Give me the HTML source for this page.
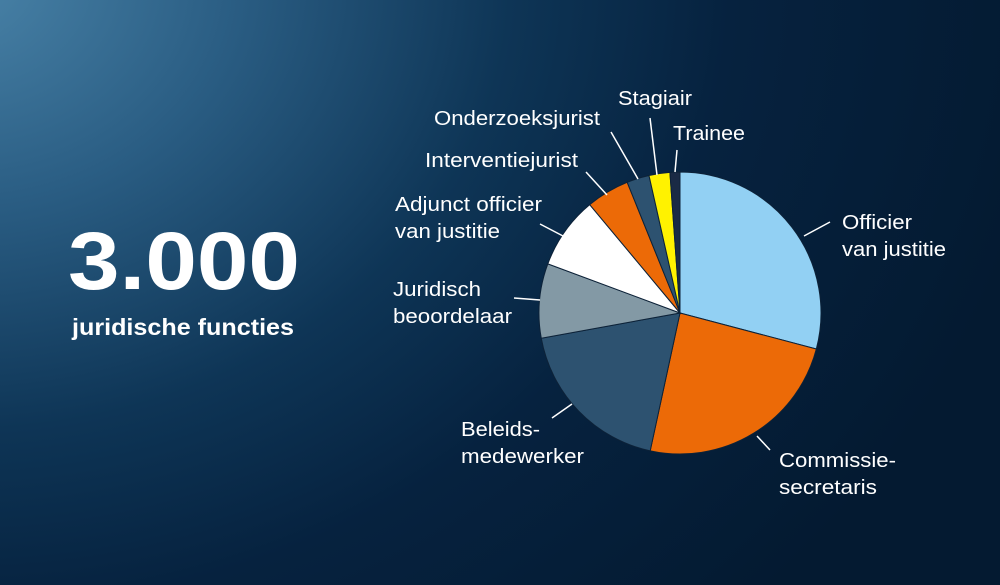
<!DOCTYPE html>
<html><head><meta charset="utf-8"><style>
html,body{margin:0;padding:0}
body{width:1000px;height:585px;overflow:hidden;background:radial-gradient(ellipse 1100px 900px at -40px -20px,#4a84a9 0%,#2a5d83 25%,#0e3556 50%,#06223f 70%,#041a31 100%);font-family:"Liberation Sans",sans-serif;position:relative}
svg{position:absolute;left:0;top:0}
text{font-family:"Liberation Sans",sans-serif;fill:#fff;font-size:20px}
</style></head><body>
<svg width="1000" height="585" viewBox="0 0 1000 585">
<g id="pie" stroke="#0d2238" stroke-width="1"></g>
<g stroke="#fff" stroke-width="1.5">
<line x1="611" y1="132" x2="638" y2="179"/>
<line x1="650" y1="118" x2="657" y2="175"/>
<line x1="677" y1="150" x2="675" y2="172"/>
<line x1="586" y1="172" x2="607" y2="195"/>
<line x1="540" y1="224" x2="563" y2="236"/>
<line x1="514" y1="298" x2="540" y2="300"/>
<line x1="552" y1="418" x2="572" y2="404"/>
<line x1="757" y1="436" x2="770" y2="450"/>
<line x1="804" y1="236" x2="830" y2="222"/>
</g>
<text x="68" y="289" style="font-size:82px;font-weight:bold" textLength="232" lengthAdjust="spacingAndGlyphs">3.000</text>
<text x="72" y="335" style="font-size:23px;font-weight:bold" textLength="222" lengthAdjust="spacingAndGlyphs">juridische functies</text>
<text x="618" y="105" textLength="74" lengthAdjust="spacingAndGlyphs">Stagiair</text>
<text x="434" y="125" textLength="166" lengthAdjust="spacingAndGlyphs">Onderzoeksjurist</text>
<text x="673" y="140" textLength="72" lengthAdjust="spacingAndGlyphs">Trainee</text>
<text x="425" y="167" textLength="153" lengthAdjust="spacingAndGlyphs">Interventiejurist</text>
<text x="395" y="211" textLength="147" lengthAdjust="spacingAndGlyphs">Adjunct officier</text>
<text x="395" y="238" textLength="105" lengthAdjust="spacingAndGlyphs">van justitie</text>
<text x="393" y="296" textLength="88" lengthAdjust="spacingAndGlyphs">Juridisch</text>
<text x="393" y="323" textLength="119" lengthAdjust="spacingAndGlyphs">beoordelaar</text>
<text x="461" y="436" textLength="79" lengthAdjust="spacingAndGlyphs">Beleids-</text>
<text x="461" y="463" textLength="123" lengthAdjust="spacingAndGlyphs">medewerker</text>
<text x="779" y="467" textLength="117" lengthAdjust="spacingAndGlyphs">Commissie-</text>
<text x="779" y="494" textLength="98" lengthAdjust="spacingAndGlyphs">secretaris</text>
<text x="842" y="229" textLength="70" lengthAdjust="spacingAndGlyphs">Officier</text>
<text x="842" y="256" textLength="104" lengthAdjust="spacingAndGlyphs">van justitie</text>
</svg>
<script>
var cx=680,cy=313,r=141;
var s=[[0,104.8,"#92d0f3"],[104.8,192.2,"#ec6a07"],[192.2,259.7,"#2d5270"],[259.7,290.4,"#8399a5"],[290.4,320.2,"#ffffff"],[320.2,338,"#ec6a07"],[338,347.3,"#2d5270"],[347.3,355.9,"#fff200"],[355.9,360,"#1a2a45"]];
var g=document.getElementById("pie"),h="";
function p(a){a=a*Math.PI/180;return (cx+r*Math.sin(a)).toFixed(2)+","+(cy-r*Math.cos(a)).toFixed(2)}
s.forEach(function(d){h+='<path fill="'+d[2]+'" d="M'+cx+','+cy+' L'+p(d[0])+' A'+r+','+r+' 0 '+(d[1]-d[0]>180?1:0)+' 1 '+p(d[1])+' Z"/>'});
g.innerHTML=h;
</script>
</body></html>
